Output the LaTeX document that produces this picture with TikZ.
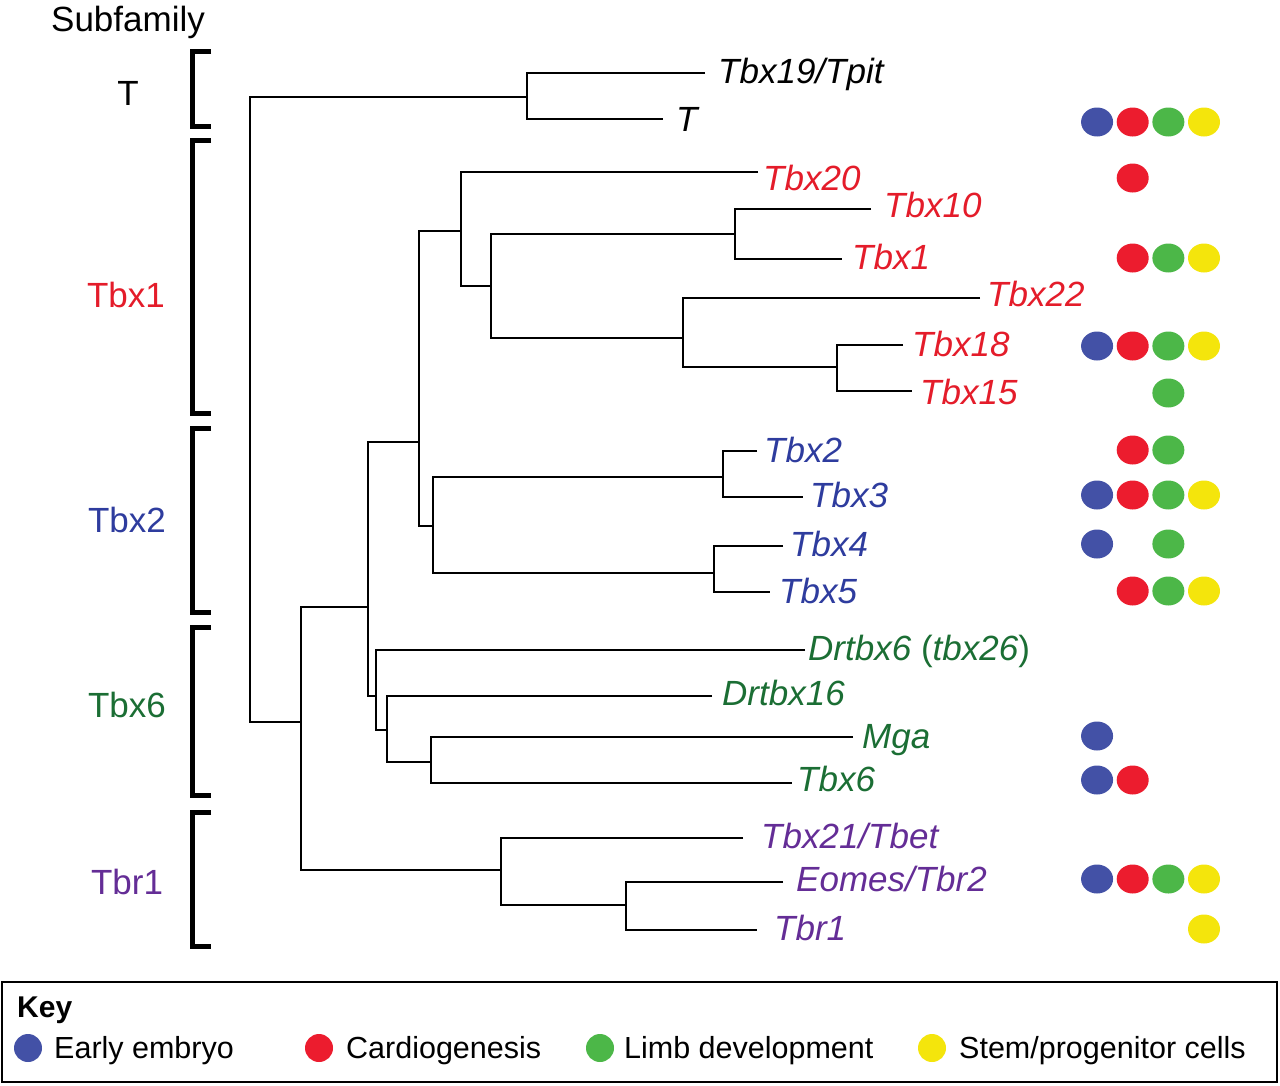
\documentclass[tikz,border=0pt]{standalone}
\usepackage{fontspec}
\setmainfont{Liberation Sans}
\usetikzlibrary{shapes.geometric}
\definecolor{tRed}{RGB}{228,28,42}
\definecolor{tBlue}{RGB}{46,60,158}
\definecolor{tGreen}{RGB}{27,110,52}
\definecolor{tPurple}{RGB}{100,45,150}
\definecolor{dB}{RGB}{67,81,166}
\definecolor{dR}{RGB}{236,28,46}
\definecolor{dG}{RGB}{76,183,72}
\definecolor{dY}{RGB}{244,229,12}
\begin{document}
\begin{tikzpicture}[x=1pt,y=-1pt,
  branch/.style={line width=2.1pt, line join=miter},
  bracketline/.style={line width=5pt, line join=miter},
  leaf/.style={anchor=base west, inner sep=0pt, font=\fontsize{35}{42}\selectfont\itshape},
  sublabel/.style={anchor=base, inner sep=0pt, font=\fontsize{35}{42}\selectfont},
  dot/.style={ellipse, inner sep=0pt, minimum width=32pt, minimum height=29pt, draw=none},
  keydot/.style={circle, inner sep=0pt, minimum size=28pt, draw=none},
  keytext/.style={anchor=base west, inner sep=0pt, font=\fontsize{30.5}{36}\selectfont},
  keybox/.style={line width=2pt}
]
\useasboundingbox (0,0) rectangle (1280,1085);

% ---- subfamily labels ----
\node[sublabel] (subfam) at (128,31) {Subfamily};
\node[sublabel] (sT) at (128,105) {T};
\node[sublabel, text=tRed] (sTbx1) at (126,307) {Tbx1};
\node[sublabel, text=tBlue] (sTbx2) at (127,532) {Tbx2};
\node[sublabel, text=tGreen] (sTbx6) at (127,717) {Tbx6};
\node[sublabel, text=tPurple] (sTbr1) at (127,894) {Tbr1};

% ---- brackets ----
\draw[bracketline] (211,51) -- (192.5,51) -- (192.5,126.5) -- (211,126.5);
\draw[bracketline] (211,140.5) -- (192.5,140.5) -- (192.5,413) -- (211,413);
\draw[bracketline] (211,428) -- (192.5,428) -- (192.5,612) -- (211,612);
\draw[bracketline] (211,627) -- (192.5,627) -- (192.5,795) -- (211,795);
\draw[bracketline] (211,812) -- (192.5,812) -- (192.5,946) -- (211,946);

% ---- internal nodes ----
\coordinate (root) at (250,400);
\coordinate (nT) at (527,97);
\coordinate (nMain) at (301,722);
\coordinate (nA) at (368,607);
\coordinate (nB) at (419,442);
\coordinate (nC) at (461,231);
\coordinate (nD) at (491,286);
\coordinate (nE) at (735,234);
\coordinate (nF) at (683,338);
\coordinate (nG) at (837,367);
\coordinate (nH) at (433,526);
\coordinate (nI) at (723,477);
\coordinate (nJ) at (714,573);
\coordinate (nK) at (376,696);
\coordinate (nL) at (387,730);
\coordinate (nM) at (431,762);
\coordinate (nN) at (501,870);
\coordinate (nO) at (626,905);

% ---- leaf tips ----
\coordinate (tTbx19) at (705,73);
\coordinate (tT) at (663,119);
\coordinate (tTbx20) at (758,172);
\coordinate (tTbx10) at (871,209);
\coordinate (tTbx1) at (842,259);
\coordinate (tTbx22) at (980,298);
\coordinate (tTbx18) at (903,345);
\coordinate (tTbx15) at (912,391);
\coordinate (tTbx2) at (757,451);
\coordinate (tTbx3) at (803,497);
\coordinate (tTbx4) at (783,546);
\coordinate (tTbx5) at (770,592);
\coordinate (tDr6) at (805,650);
\coordinate (tDr16) at (712,696);
\coordinate (tMga) at (853,737);
\coordinate (tTbx6) at (792,783);
\coordinate (tTbx21) at (743,838);
\coordinate (tEomes) at (783,882);
\coordinate (tTbr1) at (757,930);

% ---- tree ----
\draw[branch] (nT) -| (root) |- (nMain);
\draw[branch] (tTbx19) -| (nT) |- (tT);
\draw[branch] (nA) -| (nMain) |- (nN);
\draw[branch] (nB) -| (nA) |- (nK);
\draw[branch] (nC) -| (nB) |- (nH);
\draw[branch] (tTbx20) -| (nC) |- (nD);
\draw[branch] (nE) -| (nD) |- (nF);
\draw[branch] (tTbx10) -| (nE) |- (tTbx1);
\draw[branch] (tTbx22) -| (nF) |- (nG);
\draw[branch] (tTbx18) -| (nG) |- (tTbx15);
\draw[branch] (nI) -| (nH) |- (nJ);
\draw[branch] (tTbx2) -| (nI) |- (tTbx3);
\draw[branch] (tTbx4) -| (nJ) |- (tTbx5);
\draw[branch] (tDr6) -| (nK) |- (nL);
\draw[branch] (tDr16) -| (nL) |- (nM);
\draw[branch] (tMga) -| (nM) |- (tTbx6);
\draw[branch] (tTbx21) -| (nN) |- (nO);
\draw[branch] (tEomes) -| (nO) |- (tTbr1);

% ---- leaf labels ----
\node[leaf] (lTbx19) at (718,83) {Tbx19/Tpit};
\node[leaf] (lT) at (676,131) {T};
\node[leaf, text=tRed] (lTbx20) at (763,190) {Tbx20};
\node[leaf, text=tRed] (lTbx10) at (884,217) {Tbx10};
\node[leaf, text=tRed] (lTbx1) at (852,269) {Tbx1};
\node[leaf, text=tRed] (lTbx22) at (987,306) {Tbx22};
\node[leaf, text=tRed] (lTbx18) at (912,356) {Tbx18};
\node[leaf, text=tRed] (lTbx15) at (920,404) {Tbx15};
\node[leaf, text=tBlue] (lTbx2) at (764,462) {Tbx2};
\node[leaf, text=tBlue] (lTbx3) at (810,507) {Tbx3};
\node[leaf, text=tBlue] (lTbx4) at (790,556) {Tbx4};
\node[leaf, text=tBlue] (lTbx5) at (779,603) {Tbx5};
\node[leaf, text=tGreen] (lDr6) at (808,660) {Drtbx6 \upshape(\itshape tbx26\upshape)};
\node[leaf, text=tGreen] (lDr16) at (722,705) {Drtbx16};
\node[leaf, text=tGreen] (lMga) at (862,748) {Mga};
\node[leaf, text=tGreen] (lTbx6) at (797,791) {Tbx6};
\node[leaf, text=tPurple] (lTbx21) at (761,848) {Tbx21/Tbet};
\node[leaf, text=tPurple] (lEomes) at (796,891) {Eomes/Tbr2};
\node[leaf, text=tPurple] (lTbr1) at (774,940) {Tbr1};

% ---- expression dots ----
\foreach \c/\y/\col [count=\i] in {
  1/122/dB, 2/122/dR, 3/122/dG, 4/122/dY,
  2/178/dR,
  2/258/dR, 3/258/dG, 4/258/dY,
  1/346/dB, 2/346/dR, 3/346/dG, 4/346/dY,
  3/393/dG,
  2/450/dR, 3/450/dG,
  1/495/dB, 2/495/dR, 3/495/dG, 4/495/dY,
  1/544/dB, 3/544/dG,
  2/591/dR, 3/591/dG, 4/591/dY,
  1/736/dB,
  1/780/dB, 2/780/dR,
  1/879/dB, 2/879/dR, 3/879/dG, 4/879/dY,
  4/929/dY}
  \node[dot, fill=\col] (dot\i) at ({1061.4+35.65*\c},\y) {};

% ---- key ----
\draw[keybox] (2,982) rectangle (1277,1082);
\node[anchor=base west, inner sep=0pt, font=\fontsize{30}{36}\selectfont\bfseries] (keytitle) at (17,1017) {Key};
\node[keydot, fill=dB] (kd1) at (28,1048) {};
\node[keytext] (kt1) at (54,1058) {Early embryo};
\node[keydot, fill=dR] (kd2) at (319,1048) {};
\node[keytext] (kt2) at (346,1058) {Cardiogenesis};
\node[keydot, fill=dG] (kd3) at (600,1048) {};
\node[keytext] (kt3) at (624,1058) {Limb development};
\node[keydot, fill=dY] (kd4) at (932,1048) {};
\node[keytext] (kt4) at (959,1058) {Stem/progenitor cells};
\end{tikzpicture}
\end{document}
